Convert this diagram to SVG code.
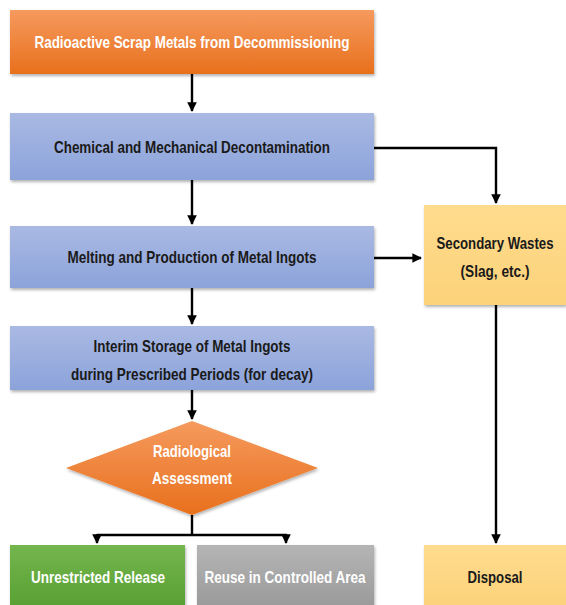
<svg xmlns="http://www.w3.org/2000/svg" width="566" height="605" viewBox="0 0 566 605">
<defs>
<linearGradient id="gOr" x1="0" y1="0" x2="0" y2="1"><stop offset="0" stop-color="#F59A5E"/><stop offset="1" stop-color="#E8701C"/></linearGradient>
<linearGradient id="gBl" x1="0" y1="0" x2="0" y2="1"><stop offset="0" stop-color="#A9B9E3"/><stop offset="1" stop-color="#8CA3DA"/></linearGradient>
<linearGradient id="gYe" x1="0" y1="0" x2="0" y2="1"><stop offset="0" stop-color="#FFDC8E"/><stop offset="1" stop-color="#FCD27A"/></linearGradient>
<linearGradient id="gGr" x1="0" y1="0" x2="0" y2="1"><stop offset="0" stop-color="#74B64E"/><stop offset="1" stop-color="#58A033"/></linearGradient>
<linearGradient id="gGy" x1="0" y1="0" x2="0" y2="1"><stop offset="0" stop-color="#B5B5B5"/><stop offset="1" stop-color="#9A9A9A"/></linearGradient>
<filter id="sh" x="-5%" y="-10%" width="110%" height="125%"><feDropShadow dx="1" dy="2" stdDeviation="1.5" flood-color="#000" flood-opacity="0.3"/></filter>
<marker id="ah" viewBox="0 0 10 10" refX="9" refY="5" markerWidth="4" markerHeight="4" orient="auto" markerUnits="strokeWidth"><path d="M0,0 L10,5 L0,10 z" fill="#000"/></marker>
</defs>
<style>
text{font-family:"Liberation Sans Narrow","Liberation Sans",Arial,sans-serif;font-weight:bold;font-size:16.5px;text-anchor:middle}
.w{fill:#fff}
.d{fill:#1a1a1a}
.c{fill:none;stroke:#000;stroke-width:2.4}
</style>
<g id="connectors">
<path class="c" d="M192,74 V111" marker-end="url(#ah)"/>
<path class="c" d="M192,180 V224" marker-end="url(#ah)"/>
<path class="c" d="M192,288 V324" marker-end="url(#ah)"/>
<path class="c" d="M192,390 V419" marker-end="url(#ah)"/>
<path class="c" d="M374,148 H496 V203" marker-end="url(#ah)"/>
<path class="c" d="M374,258 H421" marker-end="url(#ah)"/>
<path class="c" d="M496,305 V543" marker-end="url(#ah)"/>
<path class="c" d="M192,515 V535 M97,535 H287"/>
<path class="c" d="M97,534 V543" marker-end="url(#ah)"/>
<path class="c" d="M286,534 V543" marker-end="url(#ah)"/>
</g>
<g id="n-scrap"><rect x="10" y="10" width="364" height="64" fill="url(#gOr)" filter="url(#sh)"/><text class="w" x="192" y="48" textLength="315" lengthAdjust="spacingAndGlyphs">Radioactive Scrap Metals from Decommissioning</text></g>
<g id="n-decon"><rect x="10" y="113" width="364" height="67" fill="url(#gBl)" filter="url(#sh)"/><text class="d" x="192" y="153" textLength="276" lengthAdjust="spacingAndGlyphs">Chemical and Mechanical Decontamination</text></g>
<g id="n-melt"><rect x="10" y="226" width="364" height="62" fill="url(#gBl)" filter="url(#sh)"/><text class="d" x="192" y="263" textLength="249" lengthAdjust="spacingAndGlyphs">Melting and Production of Metal Ingots</text></g>
<g id="n-storage"><rect x="10" y="326" width="364" height="64" fill="url(#gBl)" filter="url(#sh)"/><text class="d" x="192" y="352" textLength="197" lengthAdjust="spacingAndGlyphs">Interim Storage of Metal Ingots</text><text class="d" x="192" y="380" textLength="242" lengthAdjust="spacingAndGlyphs">during Prescribed Periods (for decay)</text></g>
<g id="n-assess"><polygon points="192,421 318,468 192,515 66,468" fill="url(#gOr)" filter="url(#sh)"/><text class="w" x="192" y="457" textLength="78" lengthAdjust="spacingAndGlyphs">Radiological</text><text class="w" x="192" y="484" textLength="80" lengthAdjust="spacingAndGlyphs">Assessment</text></g>
<g id="n-release"><rect x="10" y="545" width="175" height="62" fill="url(#gGr)" filter="url(#sh)"/><text class="w" x="98" y="583" textLength="134" lengthAdjust="spacingAndGlyphs">Unrestricted Release</text></g>
<g id="n-reuse"><rect x="197" y="545" width="177" height="62" fill="url(#gGy)" filter="url(#sh)"/><text class="w" x="285" y="583" textLength="161" lengthAdjust="spacingAndGlyphs">Reuse in Controlled Area</text></g>
<g id="n-secondary"><rect x="424" y="205" width="142" height="100" fill="url(#gYe)" filter="url(#sh)"/><text class="d" x="495" y="249" textLength="117" lengthAdjust="spacingAndGlyphs">Secondary Wastes</text><text class="d" x="495" y="277" textLength="69" lengthAdjust="spacingAndGlyphs">(Slag, etc.)</text></g>
<g id="n-disposal"><rect x="424" y="545" width="142" height="62" fill="url(#gYe)" filter="url(#sh)"/><text class="d" x="495" y="583" textLength="55" lengthAdjust="spacingAndGlyphs">Disposal</text></g>
</svg>
